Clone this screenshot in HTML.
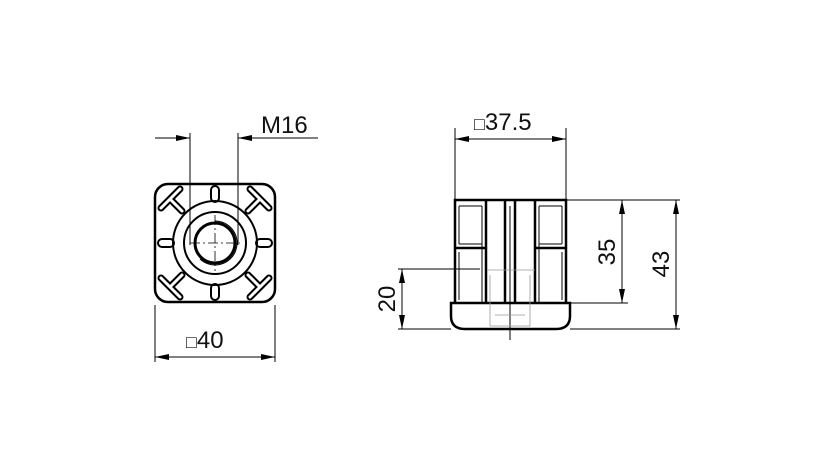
<!DOCTYPE html>
<html><head><style>body{margin:0;background:#fff}svg{display:block}text{font-family:"Liberation Sans",sans-serif;fill:#111}</style></head><body>
<svg width="827" height="472" viewBox="0 0 827 472" xmlns="http://www.w3.org/2000/svg">
<g stroke="#000" fill="none">
<!-- left view -->
<rect x="155" y="184" width="120" height="118" rx="13" stroke-width="2.5"/>
<circle cx="215" cy="243" r="42" stroke-width="2"/>
<circle cx="215" cy="243" r="31" stroke-width="2"/>
<circle cx="215" cy="243" r="20" stroke-width="3"/>
<path d="M215,221 A22,22 0 1,1 200,259" stroke-width="1"/>
<path d="M190,243 H240 M215,215 V271" stroke-width="0.8" stroke-dasharray="10,3,2,3"/>
<g stroke-width="2">
<rect x="211" y="186" width="8" height="16" rx="4"/>
<rect x="211" y="284" width="8" height="16" rx="4"/>
<rect x="158" y="239" width="16" height="8" rx="4"/>
<rect x="256" y="239" width="16" height="8" rx="4"/>
<path d="M161,208 L180,189 M170,199 L182,211" stroke-width="7" stroke-linecap="round"/>
<path d="M161,208 L180,189 M170,199 L182,211" stroke="#fff" stroke-width="3" stroke-linecap="round"/>
<path d="M269,208 L250,189 M260,199 L248,211" stroke-width="7" stroke-linecap="round"/>
<path d="M269,208 L250,189 M260,199 L248,211" stroke="#fff" stroke-width="3" stroke-linecap="round"/>
<path d="M161,278 L180,297 M170,287 L182,275" stroke-width="7" stroke-linecap="round"/>
<path d="M161,278 L180,297 M170,287 L182,275" stroke="#fff" stroke-width="3" stroke-linecap="round"/>
<path d="M269,278 L250,297 M260,287 L248,275" stroke-width="7" stroke-linecap="round"/>
<path d="M269,278 L250,297 M260,287 L248,275" stroke="#fff" stroke-width="3" stroke-linecap="round"/>
</g>
<g stroke-width="1">
<path d="M190,133 V245 M238,133 V245"/>
<path d="M155,138 H190 M238,138 H318"/>
<path d="M155,305 V362 M275,305 V362"/>
<path d="M155,357 H275"/>
</g>
<!-- right view -->
<g stroke-width="2.5">
<path d="M455,303 V200 H566 V303"/>
<path d="M451,303 H570 V316 Q570,329 556,329 H465 Q451,329 451,316 Z"/>
<path d="M486,200 V303 M535,200 V303 M505,200 V303 M515,200 V303"/>
<path d="M455,248 H486 M535,248 H566"/>
</g>
<g stroke-width="1">
<path d="M459,206 H482 M539,206 H562 M459,244 H482 M539,244 H562 M459,252 V300 M562,252 V300 M459,206 V244 M562,206 V244 M482,206 V303 M539,206 V303 M510,206 V340"/>
<g stroke="#999" stroke-width="0.8"><path d="M487,270 H535 M490,275 V326 H530 V275 M495,315 H525"/></g>
<path d="M455,128 V200 M566,128 V200"/>
<path d="M455,139 H566"/>
<path d="M566,200 H680 M566,303 H628 M570,329 H680"/>
<path d="M622,200 V303"/>
<path d="M676,200 V329"/>
<path d="M398,269 H480 M398,329 H451"/>
<path d="M402,269 V329"/>
</g>
</g>
<g fill="#000">
<path d="M190,138 l-14,-3 v6z M238,138 l14,-3 v6z"/>
<path d="M155,357 l14,-3 v6z M275,357 l-14,-3 v6z"/>
<path d="M455,139 l14,-3 v6z M566,139 l-14,-3 v6z"/>
<path d="M622,200 l-3,14 h6z M622,303 l-3,-14 h6z"/>
<path d="M676,200 l-3,14 h6z M676,329 l-3,-14 h6z"/>
<path d="M402,269 l-3,14 h6z M402,329 l-3,-14 h6z"/>
</g>
<text x="261" y="133" font-size="24">M16</text>
<text x="186" y="348" font-size="24"><tspan font-size="18">□</tspan>40</text>
<text x="474" y="130" font-size="24"><tspan font-size="18">□</tspan>37.5</text>
<text transform="translate(615,252) rotate(-90)" text-anchor="middle" font-size="24">35</text>
<text transform="translate(669,264) rotate(-90)" text-anchor="middle" font-size="24">43</text>
<text transform="translate(395,299) rotate(-90)" text-anchor="middle" font-size="24">20</text>
</svg>
</body></html>
